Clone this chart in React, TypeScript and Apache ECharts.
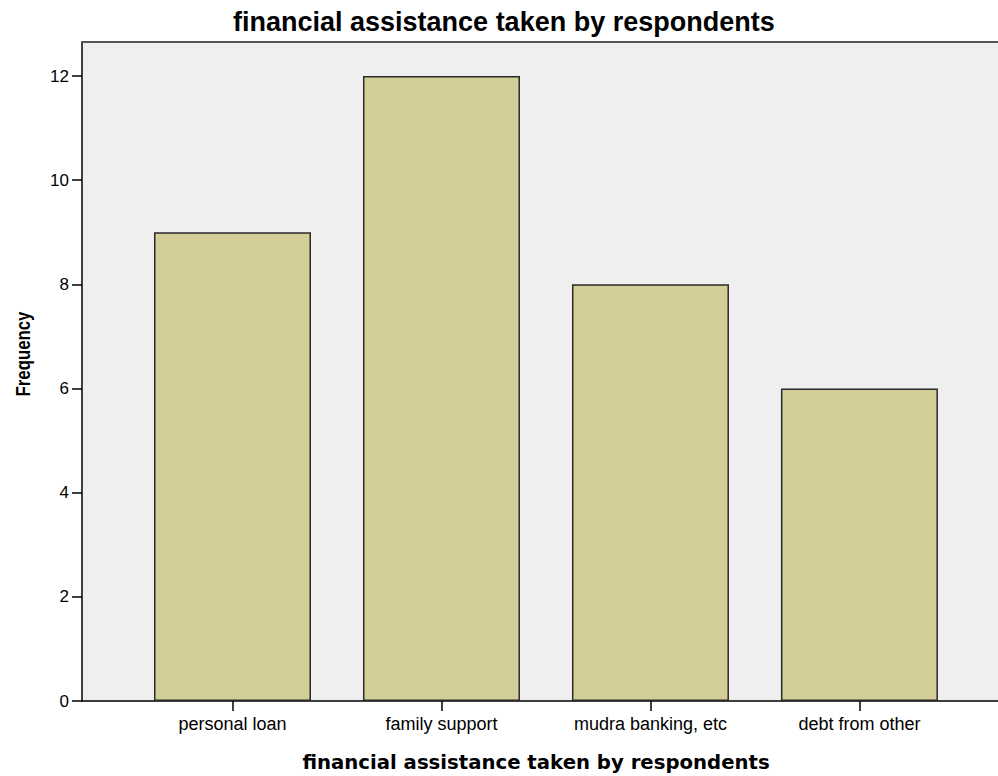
import React, { useEffect, useRef } from "react";
import * as echarts from "echarts";

const titleText = "financial assistance taken by respondents";
const xAxisTitle = "financial assistance taken by respondents";
const yAxisTitle = "Frequency";
const categories = ["personal loan", "family support", "mudra banking, etc", "debt from other"];
const frequencies = [9, 12, 8, 6];
const categoryPositions = [1, 2, 3, 4];
const yTicks = [0, 2, 4, 6, 8, 10, 12];

export default function App() {
  const ref = useRef<HTMLDivElement>(null);
  useEffect(() => {
    if (!ref.current) return;
    const chart = echarts.init(ref.current, null, { renderer: "svg" });
    const labelFont = "'Liberation Sans', Arial, sans-serif";
    const xMin = 0.2799;
    const xMax = 4.663;
    chart.setOption({
      animation: false,
      backgroundColor: "#ffffff",
      title: {
        text: titleText,
        left: 233,
        top: 8,
        padding: 0,
        textStyle: { fontFamily: labelFont, fontWeight: "bold", fontSize: 27, color: "#000" },
      },
      grid: {
        left: 82,
        right: 0,
        top: 42,
        bottom: 75,
        show: true,
        backgroundColor: "#efefef",
        borderWidth: 0,
        containLabel: false,
      },
      xAxis: [
        {
          type: "value",
          min: xMin,
          max: xMax,
          splitLine: { show: false },
          axisLine: { show: true, onZero: false, lineStyle: { color: "#000", width: 1.5 } },
          axisTick: { show: true, length: 10, customValues: categoryPositions, lineStyle: { color: "#000", width: 1.5 } },
          axisLabel: {
            customValues: categoryPositions,
            margin: 14,
            fontFamily: labelFont,
            fontSize: 18,
            color: "#000",
            formatter: (v: number) => categories[Math.round(v) - 1] ?? "",
          },
        },
        {
          type: "value",
          position: "top",
          min: xMin,
          max: xMax,
          splitLine: { show: false },
          axisLine: { show: true, onZero: false, lineStyle: { color: "#555", width: 2 } },
          axisTick: { show: false },
          axisLabel: { show: false },
        },
      ],
      yAxis: {
        type: "value",
        min: 0,
        max: 12.653,
        splitLine: { show: false },
        axisLine: { show: true, lineStyle: { color: "#000", width: 1.5 } },
        axisTick: { show: true, length: 10, customValues: yTicks, lineStyle: { color: "#000", width: 1.5 } },
        axisLabel: {
          customValues: yTicks,
          margin: 13,
          fontFamily: labelFont,
          fontSize: 17,
          color: "#000",
        },
      },
      graphic: [
        {
          type: "text",
          x: 536,
          y: 762,
          style: {
            text: xAxisTitle,
            fontFamily: "'DejaVu Sans', sans-serif",
            fontWeight: "bold",
            fontSize: 19.7,
            fill: "#000",
            textAlign: "center",
            textVerticalAlign: "middle",
          },
        },
        {
          type: "text",
          x: 22.5,
          y: 354,
          rotation: Math.PI / 2,
          scaleX: 0.8,
          style: {
            text: yAxisTitle,
            fontFamily: labelFont,
            fontWeight: "bold",
            fontSize: 21,
            fill: "#000",
            textAlign: "center",
            textVerticalAlign: "middle",
          },
        },
      ],
      series: [
        {
          type: "bar",
          xAxisIndex: 0,
          data: categoryPositions.map((p, i) => [p, frequencies[i]]),
          barWidth: 157,
          itemStyle: { color: "#d3ce97", borderColor: "#2a2a2a", borderWidth: 1.5 },
          emphasis: { disabled: true },
        },
      ],
    });
    return () => chart.dispose();
  }, []);
  return (
    <div
      ref={ref}
      style={{ position: "absolute", left: 0, top: 0, width: 998, height: 776 }}
    />
  );
}
